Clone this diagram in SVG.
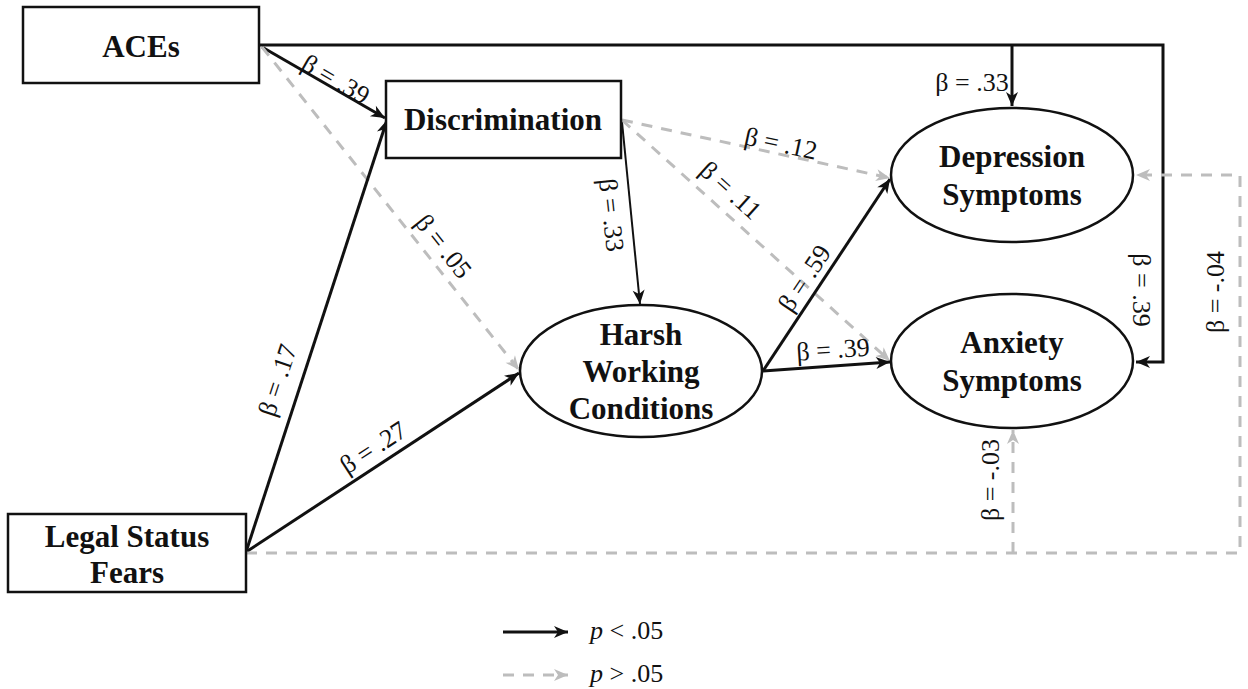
<svg xmlns="http://www.w3.org/2000/svg" width="1248" height="689" viewBox="0 0 1248 689">
<defs>
<style>
.node{fill:#fff;stroke:#111;stroke-width:2.5}
.nt{font-family:"Liberation Serif",serif;font-weight:bold;font-size:31px;fill:#111;text-anchor:middle}
.lb{font-family:"Liberation Serif",serif;font-size:26px;fill:#111;text-anchor:middle}
.s{fill:none;stroke:#111;stroke-width:3}
.d{fill:none;stroke:#bdbdbd;stroke-width:3;stroke-dasharray:11 9}
</style>
<marker id="ab" viewBox="0 0 16 14" refX="15" refY="7" markerWidth="16" markerHeight="14" markerUnits="userSpaceOnUse" orient="auto">
<path d="M1,1 L15,7 L1,13 L5,7 Z" fill="#111"/>
</marker>
<marker id="ag" viewBox="0 0 16 14" refX="15" refY="7" markerWidth="16" markerHeight="14" markerUnits="userSpaceOnUse" orient="auto">
<path d="M1,1 L15,7 L1,13 L5,7 Z" fill="#bdbdbd"/>
</marker>
</defs>
<rect width="1248" height="689" fill="#fff"/>
<g id="connectors">
<polyline class="s" points="259,45 1163,45 1163,362 1136,362" marker-end="url(#ab)"/>
<line class="s" x1="1012" y1="45" x2="1012" y2="106" marker-end="url(#ab)"/>
<line class="s" x1="262" y1="47" x2="385" y2="118" marker-end="url(#ab)"/>
<line class="d" x1="262" y1="47" x2="519" y2="370" marker-end="url(#ag)"/>
<line class="s" x1="246" y1="552" x2="387" y2="120" marker-end="url(#ab)"/>
<line class="s" x1="246" y1="552" x2="519" y2="373" marker-end="url(#ab)"/>
<polyline class="d" points="246,553 1240,553 1240,175 1136,175" marker-end="url(#ag)"/>
<line class="d" x1="1013" y1="553" x2="1013" y2="430" marker-end="url(#ag)"/>
<line class="s" style="stroke-width:2" x1="622" y1="122" x2="640" y2="304" marker-end="url(#ab)"/>
<line class="d" x1="622" y1="120" x2="890" y2="178" marker-end="url(#ag)"/>
<line class="d" x1="622" y1="120" x2="890" y2="361" marker-end="url(#ag)"/>
<line class="s" x1="763" y1="371" x2="890" y2="179" marker-end="url(#ab)"/>
<line class="s" x1="763" y1="371" x2="890" y2="362" marker-end="url(#ab)"/>
<text class="lb" transform="translate(336,79) rotate(30)" dy="0.35em">β = .39</text>
<text class="lb" transform="translate(444,246) rotate(51.5)" dy="0.35em">β = .05</text>
<text class="lb" transform="translate(277,380) rotate(-71.8)" dy="0.35em">β = .17</text>
<text class="lb" transform="translate(373,447) rotate(-33.2)" dy="0.35em">β = .27</text>
<text class="lb" transform="translate(612,215) rotate(84)" dy="0.35em">β = .33</text>
<text class="lb" transform="translate(781,143) rotate(12.2)" dy="0.35em">β = .12</text>
<text class="lb" transform="translate(731,190) rotate(42)" dy="0.35em">β = .11</text>
<text class="lb" transform="translate(804,278) rotate(-56.4)" dy="0.35em">β = .59</text>
<text class="lb" transform="translate(833,349) rotate(-4)" dy="0.35em">β = .39</text>
<text class="lb" transform="translate(972,82)" dy="0.35em">β = .33</text>
<text class="lb" transform="translate(1142,290) rotate(90)" dy="0.35em">β = .39</text>
<text class="lb" transform="translate(1215,292) rotate(-90)" dy="0.35em">β = -.04</text>
<text class="lb" transform="translate(990,480) rotate(-90)" dy="0.35em">β = -.03</text>
</g>
<g id="aces">
<rect class="node" x="23" y="7" width="236" height="76"/>
<text class="nt" x="141" y="57">ACEs</text>
</g>
<g id="discrimination">
<rect class="node" x="386" y="81" width="235" height="77"/>
<text class="nt" x="503" y="130">Discrimination</text>
</g>
<g id="legal">
<rect class="node" x="8" y="514" width="238" height="78"/>
<text class="nt" x="127" y="547">Legal Status</text>
<text class="nt" x="127" y="583">Fears</text>
</g>
<g id="harsh">
<ellipse class="node" cx="641" cy="371" rx="121" ry="66"/>
<text class="nt" x="641" y="345">Harsh</text>
<text class="nt" x="641" y="382">Working</text>
<text class="nt" x="641" y="419">Conditions</text>
</g>
<g id="depression">
<ellipse class="node" cx="1012" cy="175" rx="121" ry="67"/>
<text class="nt" x="1012" y="167">Depression</text>
<text class="nt" x="1012" y="205">Symptoms</text>
</g>
<g id="anxiety">
<ellipse class="node" cx="1012" cy="361" rx="121" ry="67"/>
<text class="nt" x="1012" y="353">Anxiety</text>
<text class="nt" x="1012" y="391">Symptoms</text>
</g>
<g id="legend">
<line class="s" x1="503" y1="632" x2="568" y2="632" marker-end="url(#ab)"/>
<line class="d" x1="503" y1="675" x2="568" y2="675" marker-end="url(#ag)"/>
<text class="lb" style="text-anchor:start" x="590" y="639"><tspan font-style="italic">p</tspan> &lt; .05</text>
<text class="lb" style="text-anchor:start" x="590" y="682"><tspan font-style="italic">p</tspan> &gt; .05</text>
</g>
</svg>
